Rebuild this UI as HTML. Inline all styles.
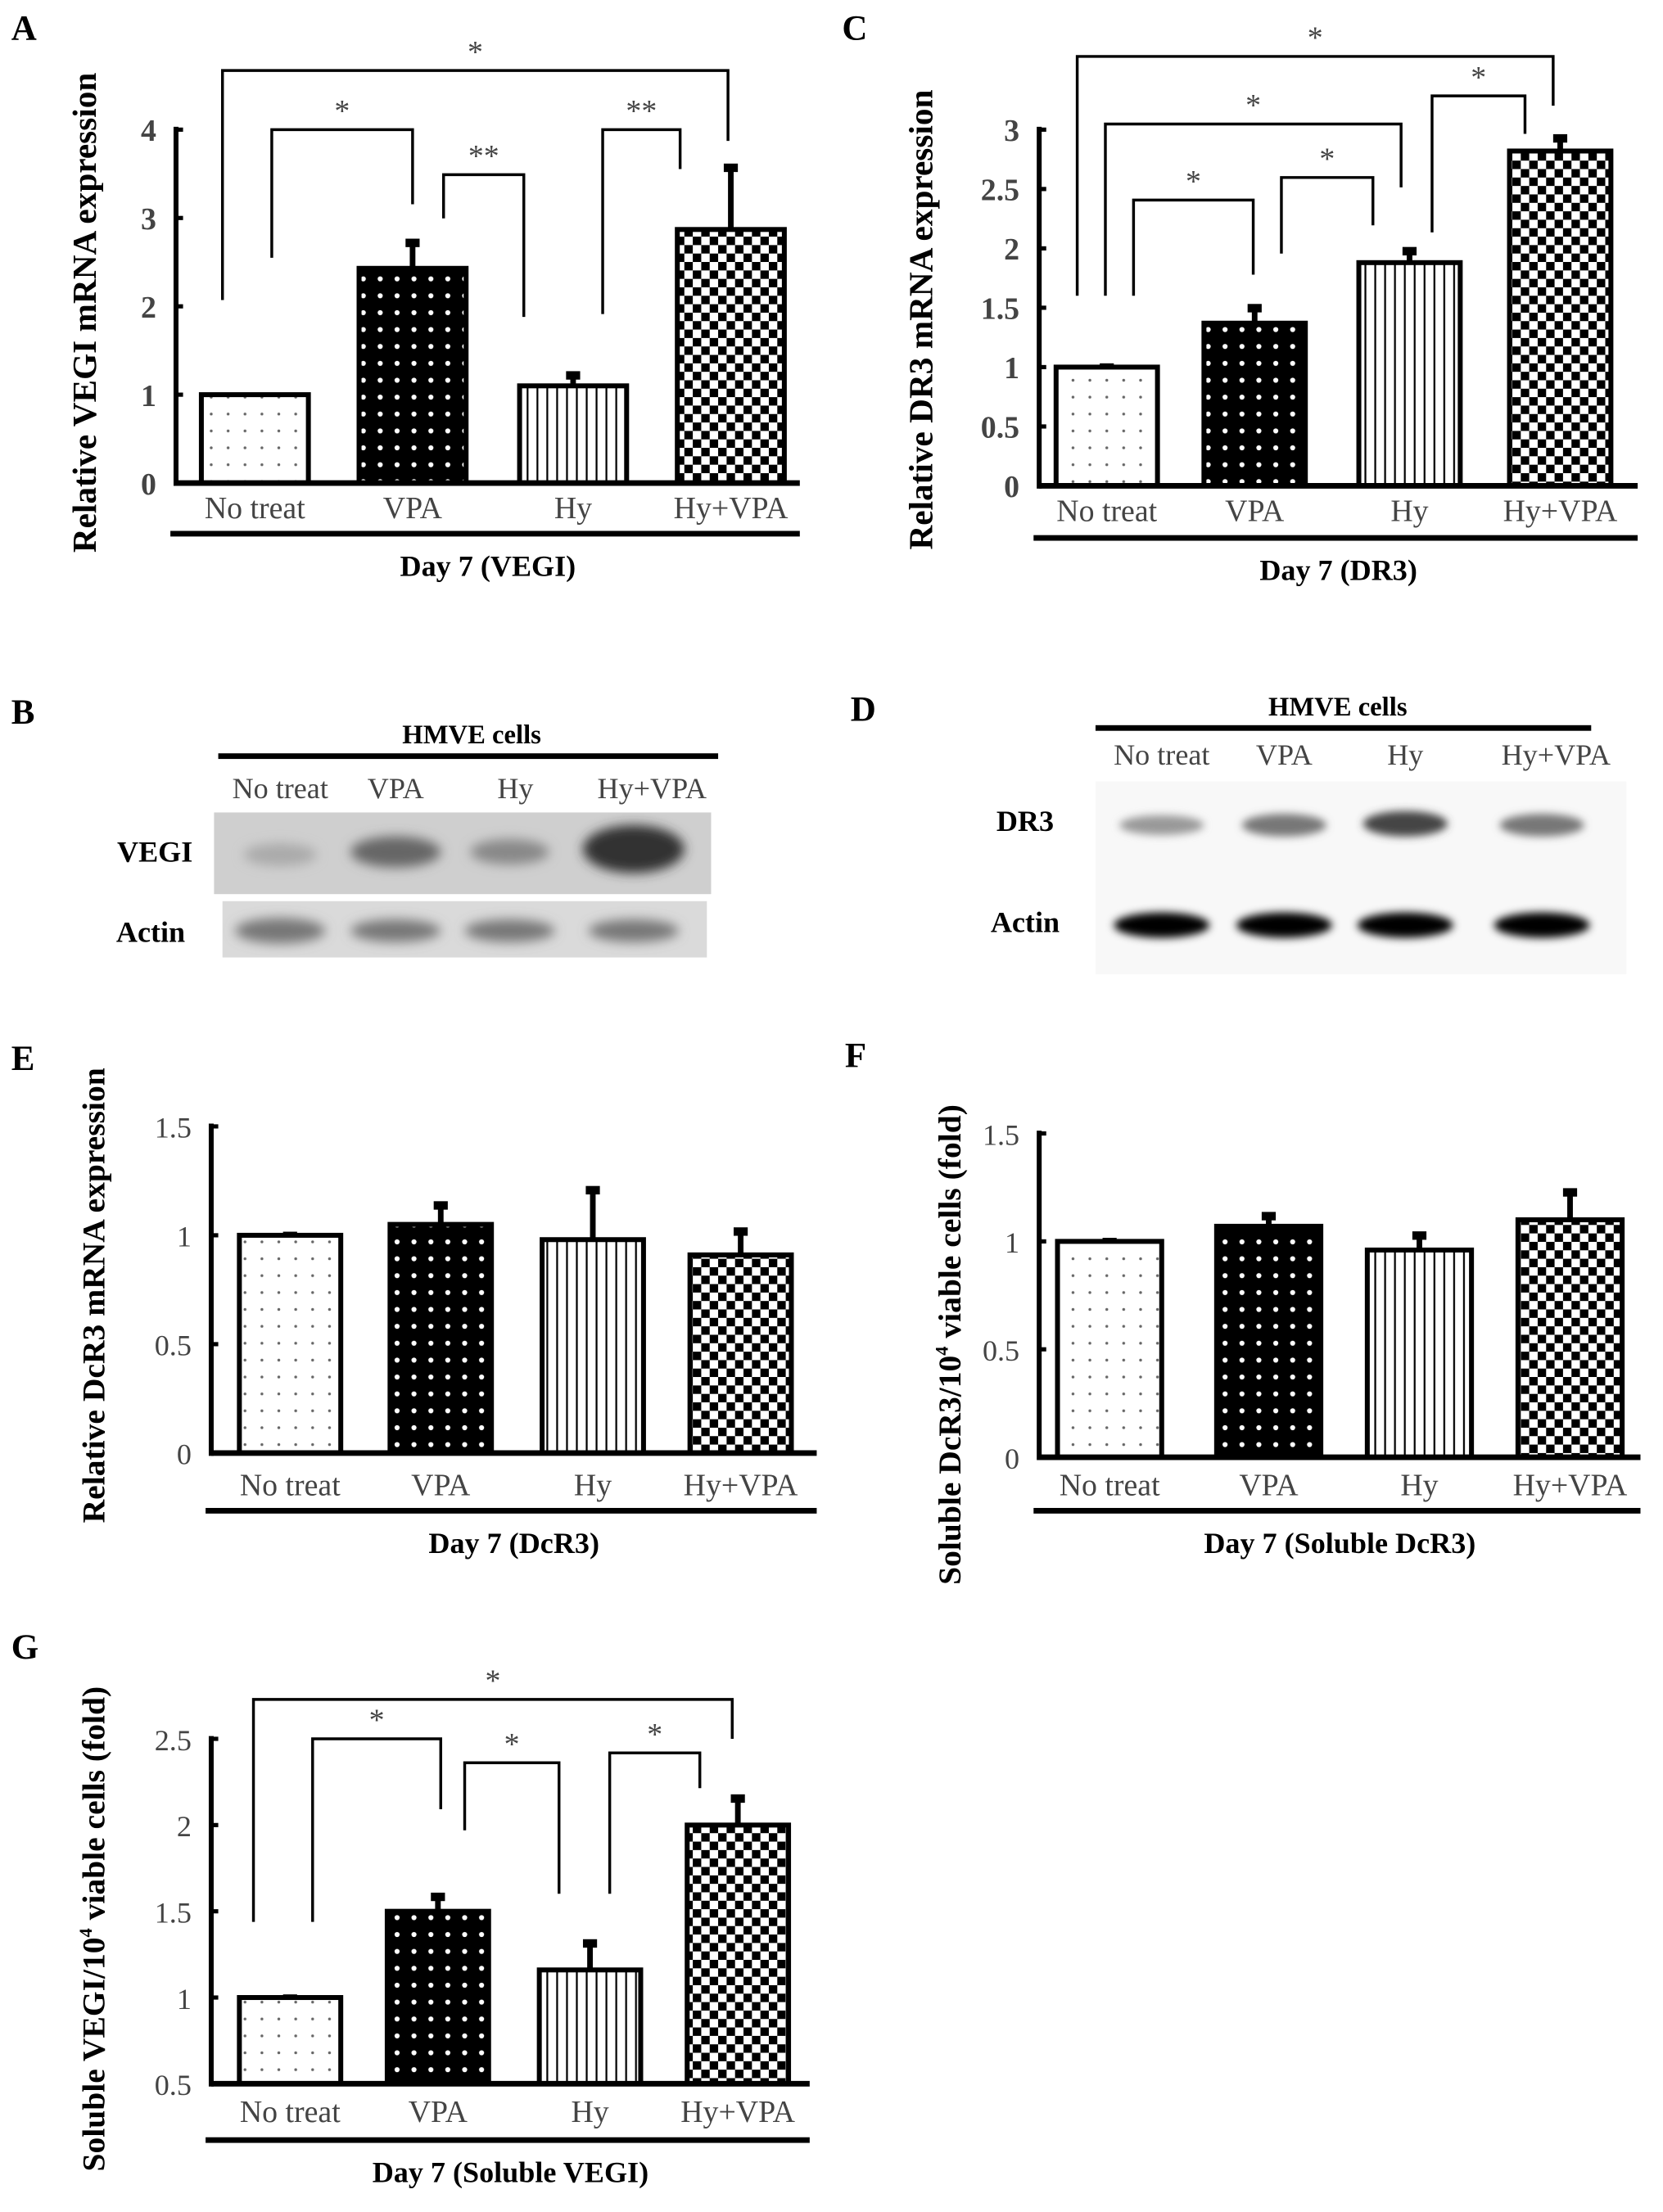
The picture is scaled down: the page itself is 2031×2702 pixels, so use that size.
<!DOCTYPE html>
<html><head><meta charset="utf-8">
<style>
html,body{margin:0;padding:0;background:#fff;}
svg{display:block;font-family:"Liberation Serif",serif;}
</style></head>
<body>
<svg id="fig" width="2031" height="2702" viewBox="0 0 1181 1571" xmlns="http://www.w3.org/2000/svg">
<defs>
<pattern id="pDots" width="12" height="12" patternUnits="userSpaceOnUse"><rect width="12" height="12" fill="#fff"/><circle cx="6" cy="6" r="1" fill="#666"/></pattern>
<pattern id="pWDots" width="12" height="12" patternUnits="userSpaceOnUse"><rect width="12" height="12" fill="#000"/><circle cx="6" cy="6" r="1.8" fill="#fff"/></pattern>
<pattern id="pStripe" width="7" height="10" patternUnits="userSpaceOnUse"><rect width="7" height="10" fill="#fff"/><rect x="3" width="1.3" height="10" fill="#000"/></pattern>
<pattern id="pCheck" width="12" height="12" patternUnits="userSpaceOnUse"><rect width="12" height="12" fill="#fff"/><rect width="6" height="6" fill="#000"/><rect x="6" y="6" width="6" height="6" fill="#000"/></pattern>
<filter id="blur4"><feGaussianBlur stdDeviation="4"/></filter>
<filter id="blur3"><feGaussianBlur stdDeviation="3"/></filter>
</defs>
<g id="blots">
  <text x="8" y="514" font-size="25" font-weight="bold">B</text>
  <text x="335" y="528" font-size="19" font-weight="bold" text-anchor="middle">HMVE cells</text>
  <rect x="155" y="535" width="355" height="4" fill="#000"/>
  <g font-size="21" fill="#444" text-anchor="middle">
    <text x="199" y="567">No treat</text>
    <text x="281" y="567">VPA</text>
    <text x="366" y="567">Hy</text>
    <text x="463" y="567">Hy+VPA</text>
  </g>
  <rect x="152" y="577" width="353" height="58" fill="#cfcfcf"/>
  <rect x="158" y="640" width="344" height="40" fill="#dadada"/>
  <g filter="url(#blur4)">
    <ellipse cx="199" cy="607" rx="26" ry="8" fill="#aaa"/>
    <ellipse cx="281" cy="605" rx="32" ry="11" fill="#666"/>
    <ellipse cx="362" cy="605" rx="28" ry="9" fill="#888"/>
    <ellipse cx="450" cy="603" rx="36" ry="17" fill="#333"/>
    <ellipse cx="199" cy="661" rx="32" ry="9" fill="#777"/>
    <ellipse cx="281" cy="661" rx="32" ry="8" fill="#777"/>
    <ellipse cx="362" cy="661" rx="32" ry="8" fill="#777"/>
    <ellipse cx="450" cy="661" rx="32" ry="8" fill="#777"/>
  </g>
  <text x="110" y="612" font-size="21" font-weight="bold" text-anchor="middle">VEGI</text>
  <text x="107" y="669" font-size="21" font-weight="bold" text-anchor="middle">Actin</text>

  <text x="604" y="512" font-size="25" font-weight="bold">D</text>
  <text x="950" y="508" font-size="19" font-weight="bold" text-anchor="middle">HMVE cells</text>
  <rect x="778" y="515" width="352" height="4" fill="#000"/>
  <g font-size="21" fill="#444" text-anchor="middle">
    <text x="825" y="543">No treat</text>
    <text x="912" y="543">VPA</text>
    <text x="998" y="543">Hy</text>
    <text x="1105" y="543">Hy+VPA</text>
  </g>
  <rect x="778" y="555" width="377" height="137" fill="#f8f8f8"/>
  <g filter="url(#blur3)">
    <ellipse cx="825" cy="586" rx="30" ry="7" fill="#999"/>
    <ellipse cx="912" cy="586" rx="30" ry="8" fill="#777"/>
    <ellipse cx="998" cy="585" rx="30" ry="9" fill="#444"/>
    <ellipse cx="1095" cy="586" rx="30" ry="8" fill="#777"/>
    <ellipse cx="825" cy="657" rx="34" ry="9" fill="#000"/>
    <ellipse cx="912" cy="657" rx="34" ry="9" fill="#000"/>
    <ellipse cx="998" cy="657" rx="34" ry="9" fill="#000"/>
    <ellipse cx="1095" cy="657" rx="34" ry="9" fill="#000"/>
  </g>
  <text x="728" y="590" font-size="21" font-weight="bold" text-anchor="middle">DR3</text>
  <text x="728" y="662" font-size="21" font-weight="bold" text-anchor="middle">Actin</text>
</g>
</svg>
<script>
// ---- data ----
const categories = ["No treat","VPA","Hy","Hy+VPA"];
const fills = ["url(#pDots)","url(#pWDots)","url(#pStripe)","url(#pCheck)"];
const valuesA = [1.0, 2.43, 1.1, 2.87];
const errorsA = [1.0, 2.75, 1.25, 3.6];
const ticksA = [0,1,2,3,4];
const valuesC = [1.0, 1.37, 1.88, 2.82];
const errorsC = [1.02, 1.52, 2.0, 2.95];
const ticksC = [0,0.5,1,1.5,2,2.5,3];
const valuesE = [1.0, 1.05, 0.98, 0.91];
const errorsE = [1.01, 1.15, 1.22, 1.03];
const ticksE = [0,0.5,1,1.5];
const valuesF = [1.0, 1.07, 0.96, 1.1];
const errorsF = [1.01, 1.13, 1.04, 1.24];
const ticksF = [0,0.5,1,1.5];
const valuesG = [1.0, 1.5, 1.16, 2.0];
const errorsG = [1.01, 1.6, 1.33, 2.17];
const ticksG = [0.5,1,1.5,2,2.5];

const NS = "http://www.w3.org/2000/svg";
const svg = document.getElementById("fig");
function mk(tag, attrs, parent){
  const e = document.createElementNS(NS, tag);
  for (const k in attrs) e.setAttribute(k, attrs[k]);
  (parent||svg).appendChild(e);
  return e;
}
function txt(s, attrs, parent){ const t = mk("text", attrs, parent); t.textContent = s; return t; }

function chart(cfg){
  const g = mk("g", {});
  
  
  const y = v => cfg.y0 - (v - cfg.vmin) / (cfg.vmax - cfg.vmin) * (cfg.y0 - cfg.y1);
  const lab = txt(cfg.letter, {x:cfg.lx, y:cfg.ly, "font-size":25, "font-weight":"bold"}, g);
  
  
  cfg.values.forEach((v,i)=>{
    const x = cfg.bx[i], w = cfg.bw;
    const eb = mk("line", {x1:x+w/2, x2:x+w/2, y1:y(v), y2:y(cfg.errors[i]), stroke:"#000", "stroke-width":4}, g);
    
    
    const cap = mk("rect", {x:x+w/2-5, y:y(cfg.errors[i])-1, width:10, height:6, fill:"#000"}, g);
    
    
    const r = mk("rect", {x:x, y:y(v), width:w, height:y(cfg.vmin)-y(v), fill:fills[i], stroke:"#000", "stroke-width":3.5}, g);
    
    
    const c = txt(categories[i], {x:x+w/2, y:cfg.catY, "font-size":22, fill:"#444", "text-anchor":"middle"}, g);
    
    
  });
  const ya = mk("line", {x1:cfg.ax, x2:cfg.ax, y1:y(cfg.vmax)-2, y2:y(cfg.vmin)+2, stroke:"#000", "stroke-width":3.5}, g);
  
  
  const xa = mk("line", {x1:cfg.ax, x2:cfg.axEnd, y1:y(cfg.vmin), y2:y(cfg.vmin), stroke:"#000", "stroke-width":4}, g);
  
  
  cfg.ticks.forEach(t=>{
    mk("line", {x1:cfg.ax, x2:cfg.ax+5, y1:y(t), y2:y(t), stroke:"#000", "stroke-width":3}, g);
    const tl = txt(String(t), {x:cfg.ax-14, y:y(t)+8, "font-size":cfg.tickBold?22:21, "font-weight":cfg.tickBold?"bold":"normal", fill:"#444", "text-anchor":"end"}, g);
    
    
  });
  const gl = mk("rect", {x:cfg.ax-4, y:cfg.lineY-2, width:cfg.axEnd-cfg.ax+4, height:4, fill:"#000"}, g);
  
  
  const xt = txt(cfg.xtitle, {x:(cfg.ax+cfg.axEnd)/2, y:cfg.lineY+30, "font-size":21, "font-weight":"bold", "text-anchor":"middle"}, g);
  
  
  const yt = txt("", {x:0, y:0, "font-size":cfg.ytSize||24, "font-weight":"bold", "text-anchor":"middle", transform:`translate(${cfg.ytx},${cfg.yty}) rotate(-90)`}, g);
  yt.innerHTML = cfg.ytitle;
  
  
  (cfg.brackets||[]).forEach(b=>{
    const p = mk("polyline", {points:`${b[0]},${b[1]} ${b[0]},${b[2]} ${b[3]},${b[2]} ${b[3]},${b[4]}`, fill:"none", stroke:"#000", "stroke-width":2}, g);
    
    
    const s = txt(b[5], {x:(b[0]+b[3])/2, y:b[2]-6, "font-size":22, fill:"#444", "text-anchor":"middle"}, g);
    
    
  });
}

chart({name:"chart-a-vegi-mrna", letter:"A", lx:8, ly:28, values:valuesA, errors:errorsA, ticks:ticksA, vmin:0, vmax:4, y0:343, y1:92, ax:125, axEnd:568, bx:[143,255,369,481], bw:76, catY:368, lineY:379, xtitle:"Day 7 (VEGI)", ytitle:"Relative VEGI mRNA expression", ytx:68, yty:222, tickBold:true,
  brackets:[[158,213,50,517,100,"*"],[193,183,92,293,145,"*"],[315,155,124,372,225,"**"],[428,223,92,483,120,"**"]]});
chart({name:"chart-c-dr3-mrna", letter:"C", lx:598, ly:28, values:valuesC, errors:errorsC, ticks:ticksC, vmin:0, vmax:3, y0:345, y1:92, ax:738, axEnd:1163, bx:[750,855,965,1072], bw:72, catY:370, lineY:382, xtitle:"Day 7 (DR3)", ytitle:"Relative DR3 mRNA expression", ytx:662, yty:227, tickBold:true,
  brackets:[[765,210,40,1103,75,"*"],[785,210,88,995,133,"*"],[805,210,142,890,195,"*"],[910,180,126,975,160,"*"],[1017,165,68,1083,95,"*"]]});
chart({name:"chart-e-dcr3-mrna", letter:"E", lx:8, ly:760, values:valuesE, errors:errorsE, ticks:ticksE, vmin:0, vmax:1.5, y0:1032, y1:800, ax:150, axEnd:580, bx:[170,277,385,490], bw:72, catY:1062, lineY:1073, xtitle:"Day 7 (DcR3)", ytitle:"Relative DcR3 mRNA expression", ytx:74, yty:920, ytSize:23});
chart({name:"chart-f-soluble-dcr3", letter:"F", lx:600, ly:758, values:valuesF, errors:errorsF, ticks:ticksF, vmin:0, vmax:1.5, y0:1035, y1:805, ax:738, axEnd:1165, bx:[751,864,971,1078], bw:74, catY:1062, lineY:1073, xtitle:"Day 7 (Soluble DcR3)", ytitle:"Soluble DcR3/10<tspan font-size='13' dy='-9'>4</tspan><tspan dy='9'> viable cells (fold)</tspan>", ytx:682, yty:955, ytSize:23});
chart({name:"chart-g-soluble-vegi", letter:"G", lx:8, ly:1178, values:valuesG, errors:errorsG, ticks:ticksG, vmin:0.5, vmax:2.5, y0:1480, y1:1235, ax:150, axEnd:575, bx:[170,275,383,488], bw:72, catY:1507, lineY:1520, xtitle:"Day 7 (Soluble VEGI)", ytitle:"Soluble VEGI/10<tspan font-size='13' dy='-9'>4</tspan><tspan dy='9'> viable cells (fold)</tspan>", ytx:74, yty:1370, ytSize:23,
  brackets:[[180,1365,1207,520,1235,"*"],[222,1365,1235,313,1285,"*"],[330,1300,1252,397,1345,"*"],[433,1345,1245,497,1270,"*"]]});
</script>
</body></html>
